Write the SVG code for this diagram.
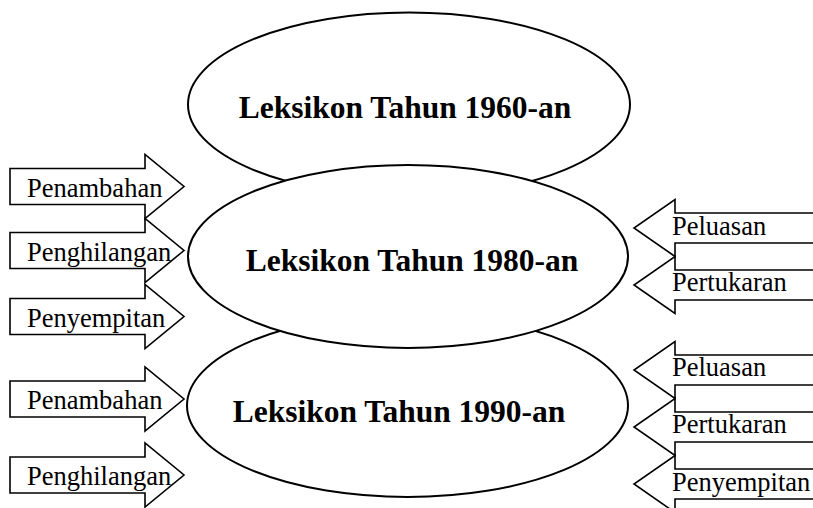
<svg xmlns="http://www.w3.org/2000/svg" width="813" height="508" viewBox="0 0 813 508">
<style>
  .ell { fill: #fff; stroke: #000; stroke-width: 2; }
  .arr { fill: #fff; stroke: #000; stroke-width: 1.6; stroke-linejoin: miter; }
  .big { font-family: "Liberation Serif", "Times New Roman", serif; font-weight: bold; font-size: 31.5px; fill: #000; text-anchor: middle; }
  .lbl { font-family: "Liberation Serif", "Times New Roman", serif; font-size: 26.5px; fill: #000; }
</style>
<rect width="813" height="508" fill="#fff"/>
<g id="ellipse-1960">
  <ellipse class="ell" cx="409" cy="104.5" rx="221" ry="92"/>
  <text class="big" x="405" y="118">Leksikon Tahun 1960-an</text>
</g>
<g id="ellipse-1990">
  <ellipse class="ell" cx="407.5" cy="405.5" rx="220.5" ry="91.5"/>
  <text class="big" x="399" y="422">Leksikon Tahun 1990-an</text>
</g>
<g id="ellipse-1980">
  <ellipse class="ell" cx="408" cy="256.5" rx="220" ry="91.5"/>
  <text class="big" x="412" y="271">Leksikon Tahun 1980-an</text>
</g>
<g id="connectors">
  <g id="arrow-l1">
    <polygon class="arr" points="10,168.5 145,168.5 145,154.5 184,186.5 145,218.5 145,204.5 10,204.5"/>
    <text class="lbl" x="27" y="197">Penambahan</text>
  </g>
  <g id="arrow-l2">
    <polygon class="arr" points="10,232.5 145,232.5 145,218.5 184,250.5 145,282.5 145,268.5 10,268.5"/>
    <text class="lbl" x="27" y="261">Penghilangan</text>
  </g>
  <g id="arrow-l3">
    <polygon class="arr" points="10,298.5 145,298.5 145,284.5 184,316.5 145,348.5 145,334.5 10,334.5"/>
    <text class="lbl" x="27" y="327">Penyempitan</text>
  </g>
  <g id="arrow-l4">
    <polygon class="arr" points="10,381 145,381 145,367 184,399 145,431 145,417 10,417"/>
    <text class="lbl" x="27" y="409">Penambahan</text>
  </g>
  <g id="arrow-l5">
    <polygon class="arr" points="10,457 145,457 145,443 184,475 145,507 145,493 10,493"/>
    <text class="lbl" x="27" y="485">Penghilangan</text>
  </g>
  <g id="arrow-r1">
    <polygon class="arr" points="820,213 675,213 675,199.5 634,228 675,256.5 675,243 820,243"/>
    <text class="lbl" x="672" y="235">Peluasan</text>
  </g>
  <g id="arrow-r2">
    <polygon class="arr" points="820,270 675,270 675,256.5 634,285 675,313.5 675,300 820,300"/>
    <text class="lbl" x="672" y="291">Pertukaran</text>
  </g>
  <g id="arrow-r3">
    <polygon class="arr" points="820,355 675,355 675,341.5 634,370 675,398.5 675,385 820,385"/>
    <text class="lbl" x="672" y="376">Peluasan</text>
  </g>
  <g id="arrow-r4">
    <polygon class="arr" points="820,412 675,412 675,398.5 634,427 675,455.5 675,442 820,442"/>
    <text class="lbl" x="672" y="433">Pertukaran</text>
  </g>
  <g id="arrow-r5">
    <polygon class="arr" points="820,469 675,469 675,455.5 634,484 675,512.5 675,499 820,499"/>
    <text class="lbl" x="672" y="491">Penyempitan</text>
  </g>
</g>
</svg>
